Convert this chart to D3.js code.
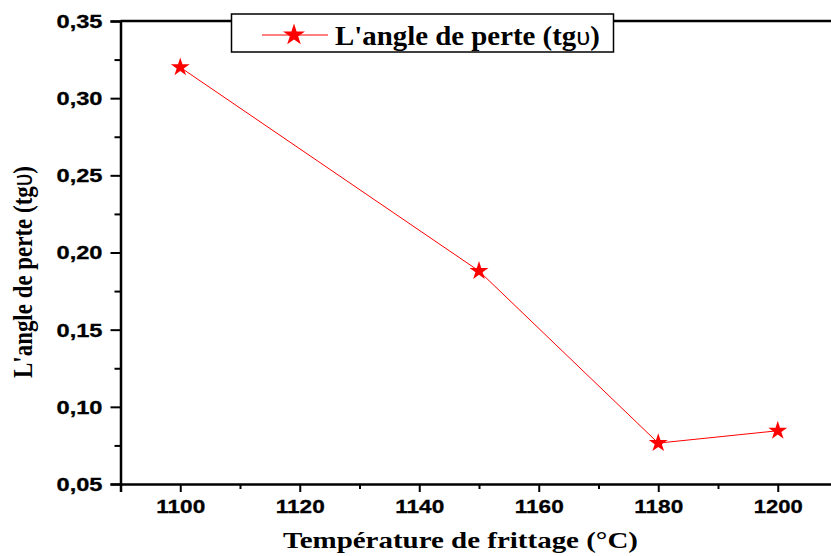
<!DOCTYPE html>
<html><head><meta charset="utf-8">
<script src="https://cdn.jsdelivr.net/npm/d3@7"></script>
<style>html,body{margin:0;padding:0;background:#fff;} svg{display:block;}</style>
</head><body>
<svg id="c" width="831" height="556"></svg>
<script>
const temperatures = [1100, 1150, 1180, 1200];
const lossAngle = [0.320, 0.188, 0.0765, 0.0845];
const yTicks = [0.05, 0.10, 0.15, 0.20, 0.25, 0.30, 0.35];
const yMinor = [0.075, 0.125, 0.175, 0.225, 0.275, 0.325];
const xTicks = [1100, 1120, 1140, 1160, 1180, 1200];
const xMinor = [1090, 1110, 1130, 1150, 1170, 1190, 1210];
const xTitle = "Température de frittage (°C)";
const yTitleMain = "L'angle de perte (tg";
const seriesName = "L'angle de perte (tg";
const symbolChar = "\u03C5";

const svg = d3.select("#c");
const x = d3.scaleLinear().domain([1090, 1210]).range([120.5, 837.5]);
const y = d3.scaleLinear().domain([0.05, 0.35]).range([484, 21]);
const fmt = v => d3.format(".2f")(v).replace(".", ",");

svg.append("line").attr("x1", 120.5).attr("x2", 831).attr("y1", 21).attr("y2", 21).attr("stroke", "#000").attr("stroke-width", 2.5);

// Y axis
const yAxis = d3.axisLeft(y).tickValues(yTicks).tickSize(10).tickFormat(fmt).tickPadding(8);
const gy = svg.append("g").attr("transform", "translate(120.5,0)").call(yAxis);
gy.select(".domain").attr("stroke-width", 2.5);
gy.selectAll(".tick line").attr("stroke-width", 2);
gy.selectAll(".tick text").attr("font-family", "Liberation Sans, Arial, sans-serif").attr("font-weight", "bold")
  .attr("font-size", 18).attr("fill", "#000").attr("dy", "0.36em")
  .attr("textLength", 46).attr("lengthAdjust", "spacingAndGlyphs").attr("stroke", "#000").attr("stroke-width", 0.3);
const gyMinor = svg.append("g").attr("transform", "translate(120.5,0)")
  .call(d3.axisLeft(y).tickValues(yMinor).tickSize(6).tickFormat(""));
gyMinor.select(".domain").remove();
gyMinor.selectAll(".tick line").attr("stroke-width", 2);

// X axis
const xAxis = d3.axisBottom(x).tickValues(xTicks).tickSize(8).tickFormat(d3.format("d")).tickPadding(8);
const gx = svg.append("g").attr("transform", "translate(0,484)").call(xAxis);
gx.select(".domain").attr("stroke-width", 2.5);
gx.selectAll(".tick line").attr("stroke-width", 2);
gx.selectAll(".tick text").attr("font-family", "Liberation Sans, Arial, sans-serif").attr("font-weight", "bold")
  .attr("font-size", 18.5).attr("fill", "#000")
  .attr("textLength", 49).attr("lengthAdjust", "spacingAndGlyphs").attr("stroke", "#000").attr("stroke-width", 0.3);
const gxMinor = svg.append("g").attr("transform", "translate(0,484)")
  .call(d3.axisBottom(x).tickValues(xMinor).tickSize(5).tickFormat(""));
gxMinor.select(".domain").remove();
gxMinor.selectAll(".tick line").attr("stroke-width", 2);

// titles
svg.append("text").attr("x", 283).attr("y", 548)
  .attr("font-family", "Liberation Serif, Times New Roman, serif").attr("font-weight", "bold").attr("font-size", 24)
  .attr("textLength", 355).attr("lengthAdjust", "spacingAndGlyphs").text(xTitle);

const yt = svg.append("text").attr("transform", "translate(32,378) rotate(-90)")
  .attr("font-family", "Liberation Serif, Times New Roman, serif").attr("font-weight", "bold").attr("font-size", 27);
yt.append("tspan").text(yTitleMain);
yt.append("tspan").attr("font-family", "Liberation Sans, Arial, sans-serif").attr("font-weight", "normal").text(symbolChar);
yt.append("tspan").text(")");
(function(){
  const w = yt.node().getComputedTextLength();
  yt.attr("transform", `translate(32,378) rotate(-90) scale(${212 / w},1)`);
})();

// data line
const pts = temperatures.map((t, i) => [x(t), y(lossAngle[i])]);
svg.append("path").attr("d", d3.line()(pts)).attr("fill", "none").attr("stroke", "#ff0000").attr("stroke-width", 1);
const star = d3.symbol().type(d3.symbolStar).size(110);
svg.selectAll(".pt").data(pts).enter().append("path")
  .attr("d", star).attr("transform", d => `translate(${d[0]},${d[1]})`)
  .attr("fill", "#ff0000");

// legend
svg.append("rect").attr("x", 231.5).attr("y", 14).attr("width", 382).attr("height", 38)
  .attr("fill", "#fff").attr("stroke", "#000").attr("stroke-width", 1.5);
svg.append("line").attr("x1", 262).attr("x2", 328).attr("y1", 35).attr("y2", 35).attr("stroke", "#ff0000").attr("stroke-width", 1);
svg.append("path").attr("d", d3.symbol().type(d3.symbolStar).size(150)).attr("transform", "translate(294,35)").attr("fill", "#ff0000");
const lt = svg.append("text").attr("x", 335).attr("y", 45)
  .attr("font-family", "Liberation Serif, Times New Roman, serif").attr("font-weight", "bold").attr("font-size", 27);
lt.append("tspan").text(seriesName);
lt.append("tspan").attr("font-family", "Liberation Sans, Arial, sans-serif").attr("font-weight", "normal").attr("font-size", 24).text(symbolChar);
lt.append("tspan").text(")");
(function(){
  const w = lt.node().getComputedTextLength();
  lt.attr("transform", `translate(335,0) scale(${265 / w},1) translate(-335,0)`);
})();
</script>
</body></html>
